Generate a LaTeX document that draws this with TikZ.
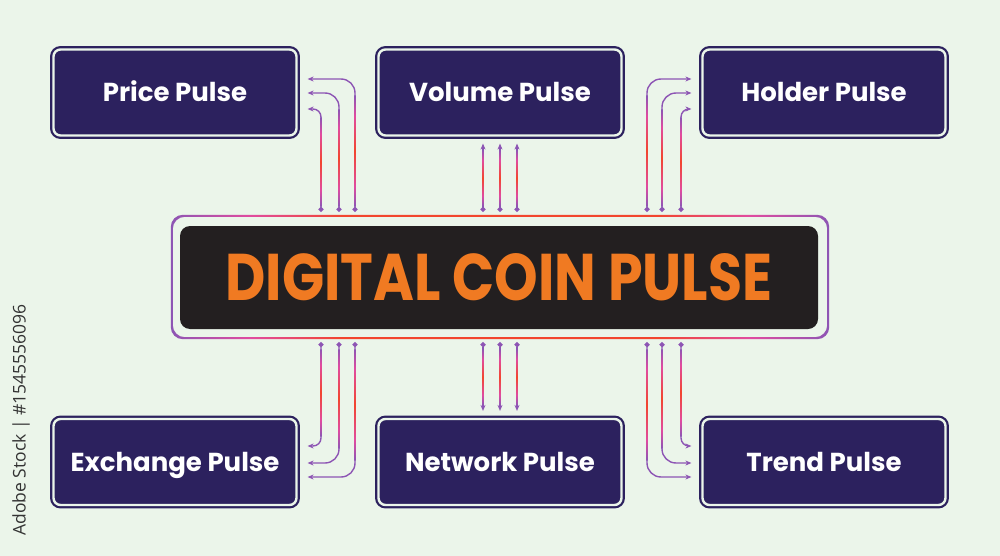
\documentclass[tikz,border=0pt]{standalone}
\usepackage{fontspec}
\usepackage{graphicx}
\setmainfont{Poppins}
\setsansfont{Open Sans}
\usetikzlibrary{arrows.meta,positioning,calc}

\definecolor{mint}{HTML}{EBF5EA}
\definecolor{navy}{HTML}{2C215E}
\definecolor{coal}{HTML}{231F20}
\definecolor{flame}{HTML}{F07A22}
\definecolor{violet}{HTML}{8D55B4}
\definecolor{rose}{HTML}{E04BA0}
\definecolor{ember}{HTML}{F2462E}

\pgfdeclareverticalshading{wire}{100bp}{color(0bp)=(violet); color(25bp)=(violet);
  color(34bp)=(rose); color(50bp)=(ember); color(66bp)=(rose); color(75bp)=(violet); color(100bp)=(violet)}
\pgfdeclarehorizontalshading{rim}{100bp}{color(0bp)=(violet); color(25bp)=(violet);
  color(31bp)=(rose); color(38bp)=(ember); color(62bp)=(ember); color(69bp)=(rose); color(75bp)=(violet); color(100bp)=(violet)}

\tikzset{
  pulse/.style={rectangle, rounded corners=7pt, fill=navy, draw=navy, line width=2.2pt,
    double=mint, double distance=2.4pt, minimum width=243pt, minimum height=86pt,
    inner sep=0pt, text height=18pt, text depth=0pt, text=white,
    font=\bfseries\fontsize{26}{26}\selectfont},
  core/.style={rectangle, rounded corners=10pt, fill=coal, minimum width=638pt,
    minimum height=103pt, inner sep=0pt, text=flame, font=\bfseries\fontsize{66}{66}\selectfont},
  ring/.style={rectangle, minimum width=656pt, minimum height=122pt, inner sep=0pt},
  link/.style={violet, line width=1.4pt, {Circle[length=5pt]}-{Stealth[length=6pt,width=5pt]}},
}

\begin{document}
\begin{tikzpicture}[x=1pt, y=-1pt]

  \fill[mint] (0,0) rectangle (1000,556);
  \useasboundingbox (0,0) rectangle (1000,556);

  % the six pulse boxes
  \node[pulse] (price)    at (175,92.5)  {Price Pulse};
  \node[pulse] (volume)   at (500,92.5)  {Volume Pulse};
  \node[pulse] (holder)   at (824,92.5)  {Holder Pulse};
  \node[pulse] (exchange) at (175,462)   {Exchange Pulse};
  \node[pulse] (network)  at (500,462)   {Network Pulse};
  \node[pulse] (trend)    at (824,462)   {Trend Pulse};

  % centre block and its frame
  \node[ring] (frame) at (500,277) {};
  \shade[shading=rim, even odd rule, rounded corners=12pt]
    ([shift={(-1pt,1pt)}]frame.north west) rectangle ([shift={(1pt,-1pt)}]frame.south east)
    ([shift={(1pt,-1pt)}]frame.north west) rectangle ([shift={(-1pt,1pt)}]frame.south east);
  \node[core] (core) at (499,277.5) {\scalebox{0.84}[1]{DIGITAL COIN PULSE}};

  \coordinate (ftop) at ([yshift=4pt]frame.north);
  \coordinate (fbot) at ([yshift=-4pt]frame.south);

  % upper links
  \draw[link, rounded corners=14pt] (ftop -| 355,0) |- ([xshift=10pt]price.east |- 0,79);
  \draw[link, rounded corners=14pt] (ftop -| 339,0) |- ([xshift=10pt]price.east |- 0,93);
  \draw[link, rounded corners=8pt]  (ftop -| 321,0) |- ([xshift=10pt]price.east |- 0,109);
  \draw[link, rounded corners=14pt] (ftop -| 647,0) |- ([xshift=-10pt]holder.west |- 0,79);
  \draw[link, rounded corners=14pt] (ftop -| 662,0) |- ([xshift=-10pt]holder.west |- 0,93);
  \draw[link, rounded corners=8pt]  (ftop -| 681,0) |- ([xshift=-10pt]holder.west |- 0,109);
  \foreach \x in {483,500,517}
    \draw[link] (ftop -| \x,0) -- ([yshift=-7pt]volume.south -| \x,0);

  % lower links
  \draw[link, rounded corners=8pt]  (fbot -| 321,0) |- ([xshift=10pt]exchange.east |- 0,446);
  \draw[link, rounded corners=14pt] (fbot -| 339,0) |- ([xshift=10pt]exchange.east |- 0,463);
  \draw[link, rounded corners=14pt] (fbot -| 355,0) |- ([xshift=10pt]exchange.east |- 0,477);
  \draw[link, rounded corners=8pt]  (fbot -| 681,0) |- ([xshift=-10pt]trend.west |- 0,446);
  \draw[link, rounded corners=14pt] (fbot -| 662,0) |- ([xshift=-10pt]trend.west |- 0,463);
  \draw[link, rounded corners=14pt] (fbot -| 647,0) |- ([xshift=-10pt]trend.west |- 0,477);
  \foreach \x in {483,500,517}
    \draw[link] (fbot -| \x,0) -- ([yshift=7pt]network.north -| \x,0);

  % glow on the straight runs
  \foreach \x/\a/\b in {355/96/206, 339/110/206, 321/118/206, 647/96/206, 662/110/206, 681/118/206,
                        483/150/206, 500/150/206, 517/150/206,
                        321/349/436, 339/349/448, 355/349/460, 681/349/436, 662/349/448, 647/349/460,
                        483/349/405, 500/349/405, 517/349/405}
    \shade[shading=wire] (\x-0.7,\a) rectangle (\x+0.7,\b);

  % stock note
  \node[rotate=90, font=\sffamily\fontsize{17.5}{17.5}\selectfont, text=black!80] (note) at (21,420)
    {Adobe Stock | \#1545556096};

\end{tikzpicture}
\end{document}
